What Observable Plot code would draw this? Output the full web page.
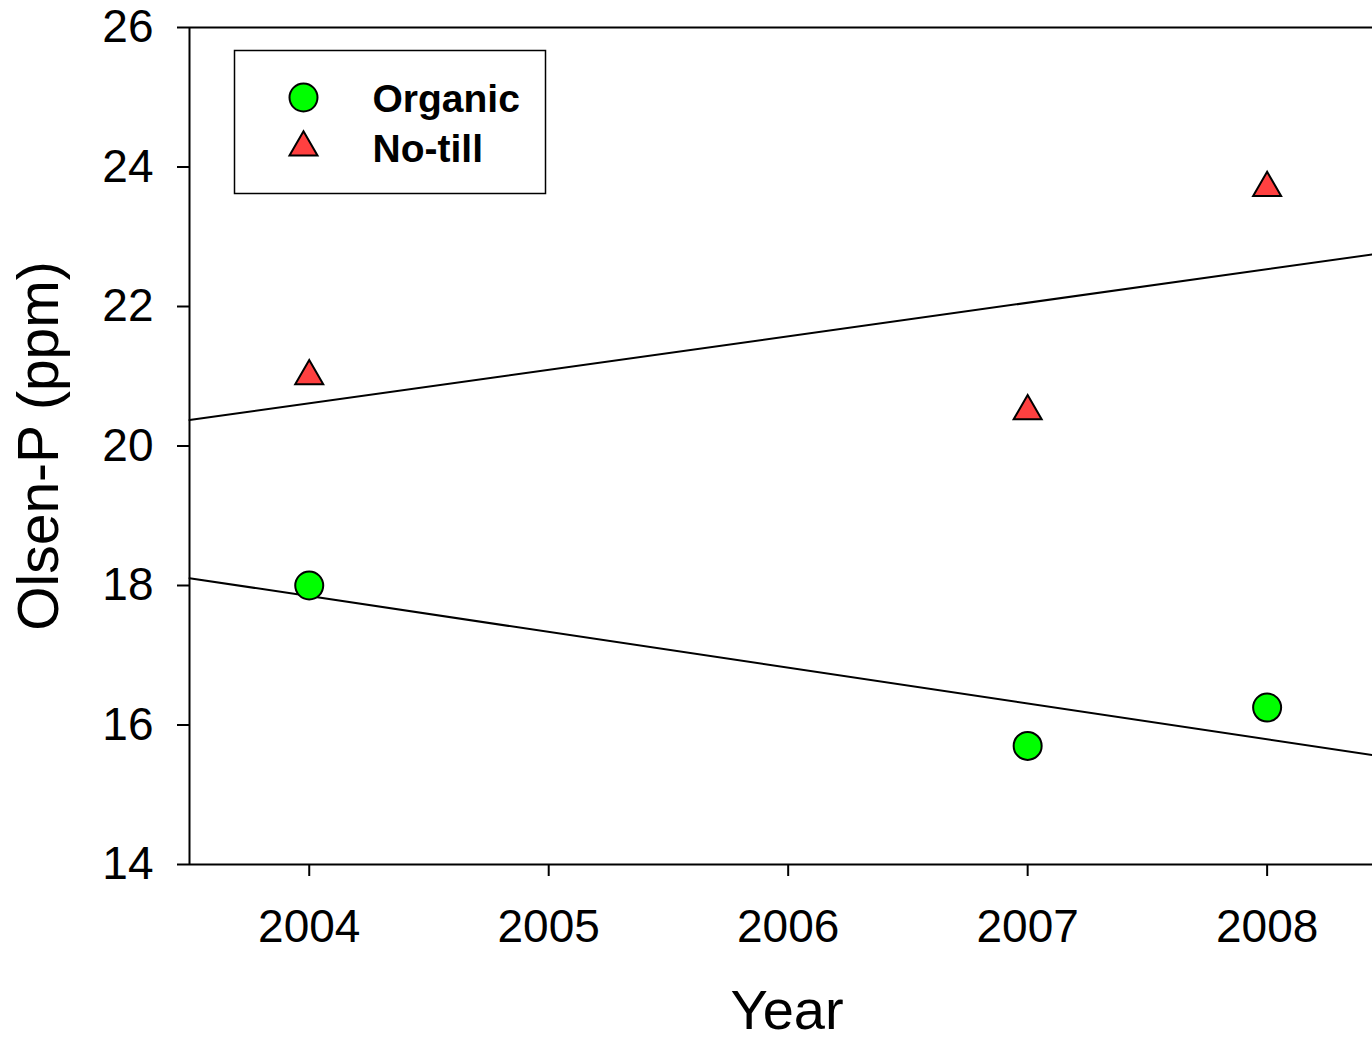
<!DOCTYPE html>
<html>
<head>
<meta charset="utf-8">
<script src="https://cdn.jsdelivr.net/npm/d3@7"></script>
<script src="https://cdn.jsdelivr.net/npm/@observablehq/plot@0.6"></script>
<style>
  html, body { margin: 0; padding: 0; background: #fff; }
  svg { display: block; }
</style>
</head>
<body>
<div id="chart"></div>
<script>
// ---- data ----
const years = [2004, 2007, 2008];
const organic = [18.0, 15.7, 16.25];
const noTill = [21.0, 20.5, 23.7];
const seriesNames = ["Organic", "No-till"];
const xTicks = [2004, 2005, 2006, 2007, 2008];
const yTicks = [14, 16, 18, 20, 22, 24, 26];
const xTitle = "Year";
const yTitle = "Olsen-P (ppm)";

// ---- styling ----
const FONT = "'Liberation Sans', Arial, Helvetica, sans-serif";
const GREEN = "#00ff00";
const RED = "#ff4040";
const xDomain = [2003.5, 2008.44];
const yDomain = [14, 26];

const organicData = years.map((x, i) => ({x, y: organic[i]}));
const noTillData = years.map((x, i) => ({x, y: noTill[i]}));

function fitLine(data) {
  const mx = d3.mean(data, d => d.x), my = d3.mean(data, d => d.y);
  const sxy = d3.sum(data, d => (d.x - mx) * (d.y - my));
  const sxx = d3.sum(data, d => (d.x - mx) ** 2);
  const b = sxy / sxx, a = my - b * mx;
  return xDomain.map(x => ({x, y: a + b * x}));
}

const plot = Plot.plot({
  width: 1372,
  height: 1041,
  marginLeft: 189,
  marginTop: 27,
  marginRight: 0,
  marginBottom: 177,
  style: {fontFamily: FONT, background: "#fff", color: "#000"},
  x: {domain: xDomain},
  y: {domain: yDomain},
  marks: [
    Plot.axisY({ticks: yTicks, tickSize: 12, tickPadding: 24, fontSize: 46, strokeWidth: 2, label: null, tickFormat: d => String(d)}),
    Plot.axisX({ticks: xTicks, tickSize: 12, tickPadding: 33, fontSize: 46, strokeWidth: 2, label: null, tickFormat: d => String(d)}),
    Plot.ruleY(yDomain, {stroke: "#000", strokeWidth: 2}),
    Plot.ruleX([xDomain[0]], {stroke: "#000", strokeWidth: 2}),
    Plot.text([yTitle], {frameAnchor: "left", rotate: -90, dx: -172, textAnchor: "middle", lineAnchor: "top", fontSize: 57, fill: "#000"}),
    Plot.text([xTitle], {frameAnchor: "bottom", dx: 6, dy: 164, textAnchor: "middle", lineAnchor: "bottom", fontSize: 56, fill: "#000"}),
    Plot.line(fitLine(organicData), {x: "x", y: "y", stroke: "#000", strokeWidth: 2}),
    Plot.line(fitLine(noTillData), {x: "x", y: "y", stroke: "#000", strokeWidth: 2}),
    Plot.dot(organicData, {x: "x", y: "y", r: 14, symbol: "circle", fill: GREEN, stroke: "#000", strokeWidth: 2}),
    Plot.dot(noTillData, {x: "x", y: "y", r: 10.4, symbol: "triangle", fill: RED, stroke: "#000", strokeWidth: 2}),
    // legend
    Plot.dot([seriesNames[0]], {frameAnchor: "top-left", dx: 114, dy: 70, r: 14, symbol: "circle", fill: GREEN, stroke: "#000", strokeWidth: 2}),
    Plot.dot([seriesNames[1]], {frameAnchor: "top-left", dx: 114, dy: 120, r: 10.4, symbol: "triangle", fill: RED, stroke: "#000", strokeWidth: 2}),
    Plot.text([seriesNames[0]], {frameAnchor: "top-left", dx: 183, dy: 72.5, text: d => d, textAnchor: "start", lineAnchor: "middle", fontSize: 39, fontWeight: "bold", fill: "#000"}),
    Plot.text([seriesNames[1]], {frameAnchor: "top-left", dx: 183, dy: 122.5, text: d => d, textAnchor: "start", lineAnchor: "middle", fontSize: 39, fontWeight: "bold", fill: "#000"})
  ]
});

// legend box
d3.select(plot).append("rect")
  .attr("x", 234.5).attr("y", 50.5).attr("width", 311).attr("height", 143)
  .attr("fill", "none").attr("stroke", "#000").attr("stroke-width", 1.5);

document.getElementById("chart").appendChild(plot);
</script>
</body>
</html>
